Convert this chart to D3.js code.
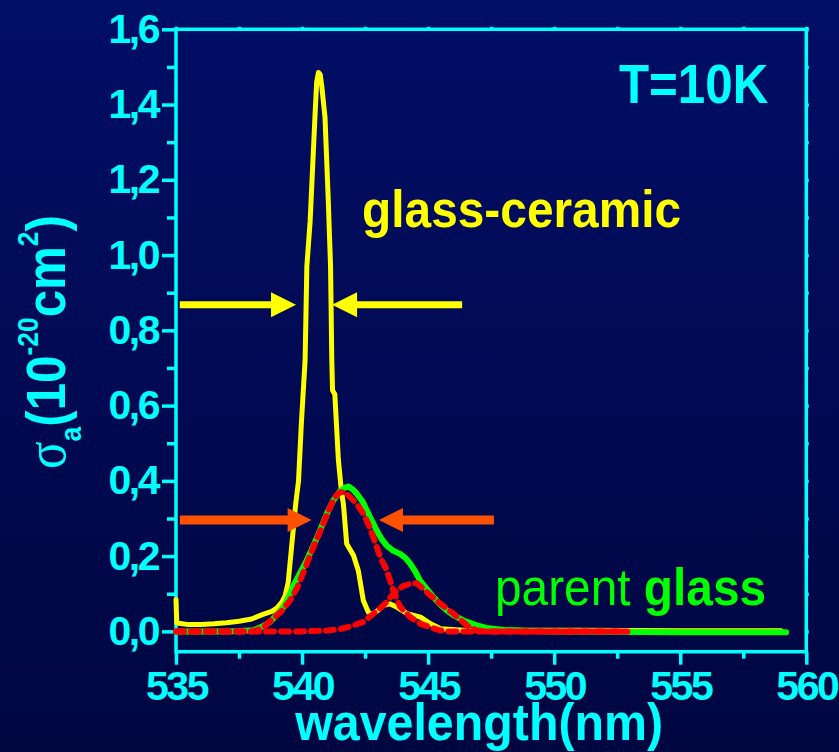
<!DOCTYPE html>
<html>
<head>
<meta charset="utf-8">
<script src="https://cdn.jsdelivr.net/npm/d3@7"></script>
<style>
  html, body { margin: 0; padding: 0; background: #000a50; }
  svg { display: block; }
</style>
</head>
<body>
<svg id="chart" width="839" height="752"></svg>
<script>
// ---- datos ----
const xTicks = [535, 540, 545, 550, 555, 560];
const xMinor = [537.5, 542.5, 547.5, 552.5, 557.5];
const yTicks = [0, 0.2, 0.4, 0.6, 0.8, 1.0, 1.2, 1.4, 1.6];
const yMinor = [0.1, 0.3, 0.5, 0.7, 0.9, 1.1, 1.3, 1.5];

// glass-ceramic (amarillo)
const glassCeramic = [
  [535.00, 0.085], [535.03, 0.022], [535.5, 0.018], [536.0, 0.018], [536.5, 0.020],
  [537.0, 0.023], [537.5, 0.027], [538.0, 0.033], [538.45, 0.045], [538.8, 0.053],
  [539.0, 0.062], [539.2, 0.078], [539.33, 0.095], [539.45, 0.13], [539.55, 0.20],
  [539.65, 0.27], [539.75, 0.34], [539.86, 0.40], [539.97, 0.55], [540.12, 0.72],
  [540.19, 0.97], [540.32, 1.09], [540.52, 1.38], [540.58, 1.46], [540.65, 1.485],
  [540.72, 1.48], [540.78, 1.45], [540.91, 1.366], [541.04, 1.145], [541.13, 0.97],
  [541.18, 0.72], [541.21, 0.64], [541.30, 0.63], [541.44, 0.456], [541.57, 0.367],
  [541.64, 0.339], [541.77, 0.233], [542.04, 0.202], [542.23, 0.162], [542.43, 0.082],
  [542.63, 0.051], [542.77, 0.045], [543.0, 0.055], [543.23, 0.069], [543.5, 0.073],
  [543.77, 0.064], [544.17, 0.047], [544.7, 0.038], [545.1, 0.020], [545.5, 0.007],
  [546.4, 0.003], [548.0, 0.003], [551.0, 0.003], [555.0, 0.002], [559.0, 0.002]
];

// parent glass (verde)
const parentGlass = [
  [535.0, 0.0], [536.0, 0.0], [537.0, 0.0], [537.5, 0.001], [538.07, 0.003],
  [538.4, 0.012], [538.73, 0.025], [539.0, 0.045], [539.26, 0.065], [539.5, 0.095],
  [539.65, 0.12], [540.0, 0.165], [540.19, 0.189], [540.5, 0.235], [540.71, 0.268],
  [541.0, 0.315], [541.24, 0.348], [541.5, 0.372], [541.7, 0.382], [541.84, 0.385],
  [542.0, 0.378], [542.17, 0.366], [542.4, 0.345], [542.57, 0.321], [542.8, 0.29],
  [542.96, 0.268], [543.16, 0.245], [543.36, 0.228], [543.6, 0.215], [543.89, 0.206],
  [544.1, 0.195], [544.29, 0.18], [544.5, 0.158], [544.68, 0.135], [545.0, 0.108],
  [545.21, 0.091], [545.5, 0.07], [545.74, 0.056], [546.0, 0.043], [546.4, 0.029],
  [546.93, 0.016], [547.3, 0.009], [548.0, 0.004], [549.0, 0.001], [550.0, 0.0],
  [552.0, -0.001], [555.0, -0.002], [559.2, -0.002]
];

// componentes del ajuste (rojo discontinuo)
const fitPeak1 = [
  [535.0, 0.0], [536.0, 0.0], [537.0, 0.0], [538.0, 0.0], [538.2, 0.003],
  [538.47, 0.011], [538.86, 0.034], [539.2, 0.055], [539.52, 0.082], [539.8, 0.115],
  [540.19, 0.18], [540.5, 0.232], [540.71, 0.265], [541.0, 0.312], [541.18, 0.34],
  [541.35, 0.36], [541.51, 0.37], [541.64, 0.37], [541.77, 0.366], [542.04, 0.348],
  [542.23, 0.333], [542.43, 0.313], [542.63, 0.285], [542.83, 0.25], [543.1, 0.197],
  [543.36, 0.162], [543.62, 0.109], [543.89, 0.065], [544.29, 0.038], [544.7, 0.02],
  [545.08, 0.011], [545.4, 0.004], [545.74, 0.0], [547.0, 0.0], [550.0, 0.0], [552.9, 0.0]
];
const fitPeak2 = [
  [535.0, 0.0], [536.0, 0.0], [537.0, 0.0], [538.0, 0.0], [540.0, 0.0],
  [541.0, 0.002], [541.5, 0.006], [542.0, 0.015], [542.43, 0.025], [542.83, 0.047],
  [543.23, 0.069], [543.5, 0.09], [543.7, 0.105], [544.0, 0.12], [544.3, 0.127],
  [544.55, 0.128], [544.81, 0.113], [545.1, 0.095], [545.48, 0.074], [546.0, 0.047],
  [546.54, 0.016], [546.9, 0.003], [547.3, 0.0], [550.0, 0.0], [552.9, 0.0]
];

// flechas (FWHM)
const arrows = [
  { y: 0.868, from: 535.15, to: 539.76, color: "#ffff00", w: 7, head: 25 },
  { y: 0.868, from: 546.35, to: 541.19, color: "#ffff00", w: 7, head: 25 },
  { y: 0.296, from: 535.15, to: 540.38, color: "#ff5200", w: 9, head: 24 },
  { y: 0.296, from: 547.61, to: 543.05, color: "#ff5200", w: 9, head: 24 }
];

// ---- dibujo ----
const W = 839, H = 752;
const M = { top: 29.3, right: 32.7, bottom: 100.3, left: 176 };
const CYAN = "#00ffff";
const FONT = "'Liberation Sans', Arial, sans-serif";

const svg = d3.select("#chart");

// fondo degradado
const defs = svg.append("defs");
const grad = defs.append("linearGradient").attr("id", "bg")
  .attr("x1", 0).attr("y1", 0).attr("x2", 0).attr("y2", 1);
grad.append("stop").attr("offset", "0%").attr("stop-color", "#010e66");
grad.append("stop").attr("offset", "100%").attr("stop-color", "#000640");
svg.append("rect").attr("width", W).attr("height", H).attr("fill", "url(#bg)");

const x = d3.scaleLinear().domain([535, 560]).range([M.left, W - M.right]);
const y = d3.scaleLinear().domain([-0.054, 1.6]).range([H - M.bottom, M.top]);

const comma = v => d3.format(".1f")(v).replace(".", ",");

// ejes
function styleAxis(g){
  g.select(".domain").remove();
  g.selectAll("line").attr("stroke", CYAN).attr("stroke-width", 3.5);
  g.selectAll("text")
    .attr("fill", CYAN)
    .style("font-family", FONT)
    .style("font-weight", "700")
    .style("font-size", "41px")
    .style("letter-spacing", "-2.5px");
}

svg.append("g")
  .attr("transform", `translate(0,${y.range()[0]})`)
  .call(d3.axisBottom(x).tickValues(xMinor).tickSize(7).tickFormat(""))
  .call(styleAxis);
svg.append("g")
  .attr("transform", `translate(0,${y.range()[0]})`)
  .call(d3.axisBottom(x).tickValues(xTicks).tickSize(13).tickPadding(6).tickFormat(d3.format("d")))
  .call(styleAxis);

svg.append("g")
  .attr("transform", `translate(${M.left},0)`)
  .call(d3.axisLeft(y).tickValues(yMinor).tickSize(9).tickFormat(""))
  .call(styleAxis);
svg.append("g")
  .attr("transform", `translate(${M.left},0)`)
  .call(d3.axisLeft(y).tickValues(yTicks).tickSize(14).tickPadding(4).tickFormat(comma))
  .call(styleAxis);

// ticks pequeños arriba y a la derecha
svg.append("g")
  .attr("transform", `translate(0,${M.top})`)
  .call(d3.axisTop(x).tickValues(xTicks.concat(xMinor)).tickSize(2.5).tickFormat(""))
  .call(styleAxis);
svg.append("g")
  .attr("transform", `translate(${W - M.right},0)`)
  .call(d3.axisRight(y).tickValues(yTicks.concat(yMinor)).tickSize(2.5).tickFormat(""))
  .call(styleAxis);

// marco
svg.append("rect")
  .attr("x", M.left).attr("y", M.top)
  .attr("width", W - M.left - M.right).attr("height", H - M.top - M.bottom)
  .attr("fill", "none").attr("stroke", CYAN).attr("stroke-width", 3.5);

// curvas
const line = d3.line().x(d => x(d[0])).y(d => y(d[1]));

svg.append("path").datum(glassCeramic)
  .attr("d", line).attr("fill", "none")
  .attr("stroke", "#ffff00").attr("stroke-width", 5)
  .attr("stroke-linejoin", "round").attr("stroke-linecap", "round");

svg.append("path").datum(parentGlass)
  .attr("d", line).attr("fill", "none")
  .attr("stroke", "#00ff00").attr("stroke-width", 6)
  .attr("stroke-linejoin", "round").attr("stroke-linecap", "round");

[fitPeak1, fitPeak2].forEach(data => {
  svg.append("path").datum(data)
    .attr("d", line).attr("fill", "none")
    .attr("stroke", "#ff0000").attr("stroke-width", 6)
    .attr("stroke-dasharray", "8,7")
    .attr("stroke-linecap", "round");
});

// flechas
arrows.forEach(a => {
  const x0 = x(a.from), x1 = x(a.to), yy = y(a.y);
  const dir = Math.sign(x1 - x0);
  const base = x1 - dir * a.head;
  svg.append("line")
    .attr("x1", x0).attr("x2", base + dir * 2)
    .attr("y1", yy).attr("y2", yy)
    .attr("stroke", a.color).attr("stroke-width", a.w);
  svg.append("path")
    .attr("d", `M${x1},${yy} L${base},${yy - a.head / 2} L${base},${yy + a.head / 2} Z`)
    .attr("fill", a.color);
});

// textos
function label(px, py, sx, parts){
  const t = svg.append("text")
    .attr("transform", `translate(${px},${py}) scale(${sx},1)`)
    .style("font-family", FONT);
  parts.forEach(p => {
    t.append("tspan").text(p.t)
      .attr("fill", p.c)
      .style("font-size", p.s + "px")
      .style("font-weight", p.b ? "700" : "400");
  });
  return t;
}

label(x(552.57), y(1.404), 0.88, [{ t: "T=10K", c: CYAN, s: 56, b: true }]);
label(x(542.38), y(1.075), 0.92, [{ t: "glass-ceramic", c: "#ffff00", s: 52, b: true }]);
label(x(547.65), y(0.07), 0.92, [
  { t: "parent ", c: "#00ff00", s: 52, b: false },
  { t: "glass", c: "#00ff00", s: 52, b: true }
]);

// título eje x
svg.append("text")
  .attr("transform", `translate(${(x(535) + x(560)) / 2 - 12},740) scale(0.93,1)`)
  .attr("text-anchor", "middle")
  .attr("fill", CYAN)
  .style("font-family", FONT).style("font-weight", "700").style("font-size", "52px")
  .text("wavelength(nm)");

// título eje y
const yt = svg.append("text")
  .attr("transform", "translate(65,342) rotate(-90) scale(0.88,1)")
  .attr("text-anchor", "middle")
  .attr("fill", CYAN)
  .style("font-family", FONT).style("font-weight", "700");
yt.append("tspan").text("σ")
  .style("font-family", "'Liberation Serif', 'DejaVu Serif', serif")
  .style("font-weight", "400").style("font-size", "58px");
yt.append("tspan").text("a").attr("dy", 16).style("font-size", "30px");
yt.append("tspan").text("(10").attr("dy", -16).style("font-size", "56px");
yt.append("tspan").text("-20").attr("dy", -27).style("font-size", "30px");
yt.append("tspan").text("cm").attr("dy", 27).style("font-size", "56px");
yt.append("tspan").text("2").attr("dy", -27).style("font-size", "30px");
yt.append("tspan").text(")").attr("dy", 27).style("font-size", "56px");
</script>
</body>
</html>
